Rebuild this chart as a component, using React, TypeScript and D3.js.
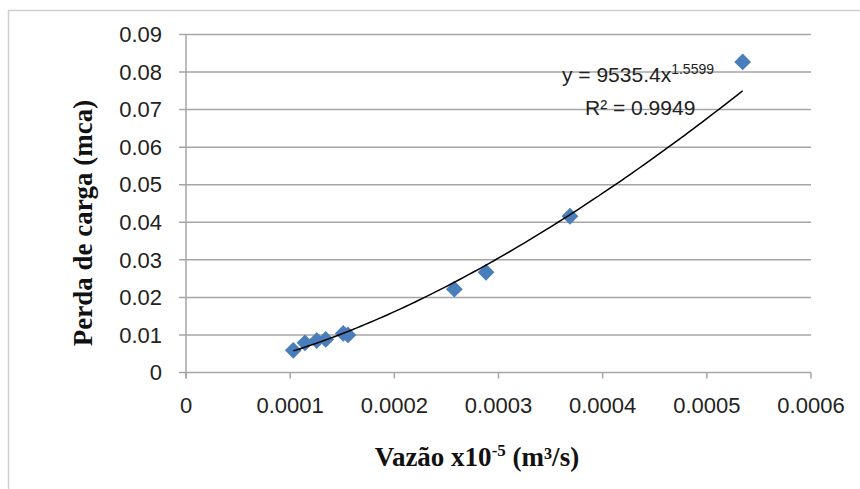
import React from "react";
import * as d3 from "d3";

const flowValues = [0.000103, 0.0001142, 0.0001255, 0.0001341, 0.000151, 0.0001555, 0.0002576, 0.000288, 0.0003686, 0.0005344];
const headLossValues = [0.0059, 0.0079, 0.0085, 0.0088, 0.0104, 0.01, 0.0222, 0.0267, 0.0416, 0.0827];
const xTicks = [0, 0.0001, 0.0002, 0.0003, 0.0004, 0.0005, 0.0006];
const yTicks = [0, 0.01, 0.02, 0.03, 0.04, 0.05, 0.06, 0.07, 0.08, 0.09];
const trendCoef = 9535.4;
const trendExp = 1.5599;
const xTitle = "Vazão x10";
const yTitle = "Perda de carga (mca)";

const W = 860;
const H = 489;

export default function App() {
  const x = d3.scaleLinear().domain([0, 0.0006]).range([186, 811]);
  const y = d3.scaleLinear().domain([0, 0.09]).range([372.5, 34.5]);

  const xMin = d3.min(flowValues) as number;
  const xMax = d3.max(flowValues) as number;
  const trendPts = d3.range(0, 101).map((i) => {
    const xv = xMin + ((xMax - xMin) * i) / 100;
    return [xv, trendCoef * Math.pow(xv, trendExp)] as [number, number];
  });
  const line = d3
    .line<[number, number]>()
    .x((d) => x(d[0]))
    .y((d) => y(d[1]));

  const diamond = d3.symbol().type(d3.symbolDiamond2).size(180)();

  const grid = "#a6a6a6";
  const sans = "'Liberation Sans', Arial, sans-serif";
  const serif = "'Liberation Serif', 'Times New Roman', serif";

  return (
    <svg
      width={W}
      height={H}
      style={{ position: "absolute", left: 0, top: 0, display: "block", background: "#fff" }}
    >
      <rect x={8.5} y={10.5} width={W + 10} height={H + 10} fill="#fff" stroke="#d0d0d0" strokeWidth={1.5} />
      {yTicks.map((t) => (
        <g key={"y" + t}>
          <line x1={x(0) - 7} x2={x(0.0006)} y1={y(t)} y2={y(t)} stroke={grid} strokeWidth={1.5} />
          <text x={162} y={y(t)} dy="0.35em" textAnchor="end" fontFamily={sans} fontSize={22} fill="#222">
            {t === 0 ? "0" : t.toFixed(2)}
          </text>
        </g>
      ))}
      <line x1={x(0)} x2={x(0)} y1={y(0.09)} y2={y(0) + 6} stroke={grid} strokeWidth={1.5} />
      {xTicks.map((t) => (
        <g key={"x" + t}>
          <line x1={x(t)} x2={x(t)} y1={y(0)} y2={y(0) + 6} stroke={grid} strokeWidth={1.5} />
          <text x={x(t)} y={413} textAnchor="middle" fontFamily={sans} fontSize={22} fill="#222">
            {t === 0 ? "0" : t.toFixed(4)}
          </text>
        </g>
      ))}
      {flowValues.map((v, i) => (
        <path
          key={"p" + i}
          d={diamond as string}
          transform={`translate(${x(v)},${y(headLossValues[i])})`}
          fill="#4a7ebb"
        />
      ))}
      <path d={line(trendPts) as string} fill="none" stroke="#000" strokeWidth={1.5} />
      <text x={562} y={82} fontFamily={sans} fontSize={21} fill="#222">
        {"y = " + trendCoef + "x"}
        <tspan fontSize={14} dy={-8}>{String(trendExp)}</tspan>
      </text>
      <text x={585} y={115} fontFamily={sans} fontSize={21} fill="#222">
        {"R² = 0.9949"}
      </text>
      <text x={477} y={466} textAnchor="middle" fontFamily={serif} fontWeight="bold" fontSize={27} fill="#111">
        {xTitle}
        <tspan fontSize={17} dy={-10}>-5</tspan>
        <tspan dy={10}>{" (m³/s)"}</tspan>
      </text>
      <text
        transform={`translate(92,223) rotate(-90)`}
        textAnchor="middle"
        fontFamily={serif}
        fontWeight="bold"
        fontSize={27}
        fill="#111"
      >
        {yTitle}
      </text>
    </svg>
  );
}
